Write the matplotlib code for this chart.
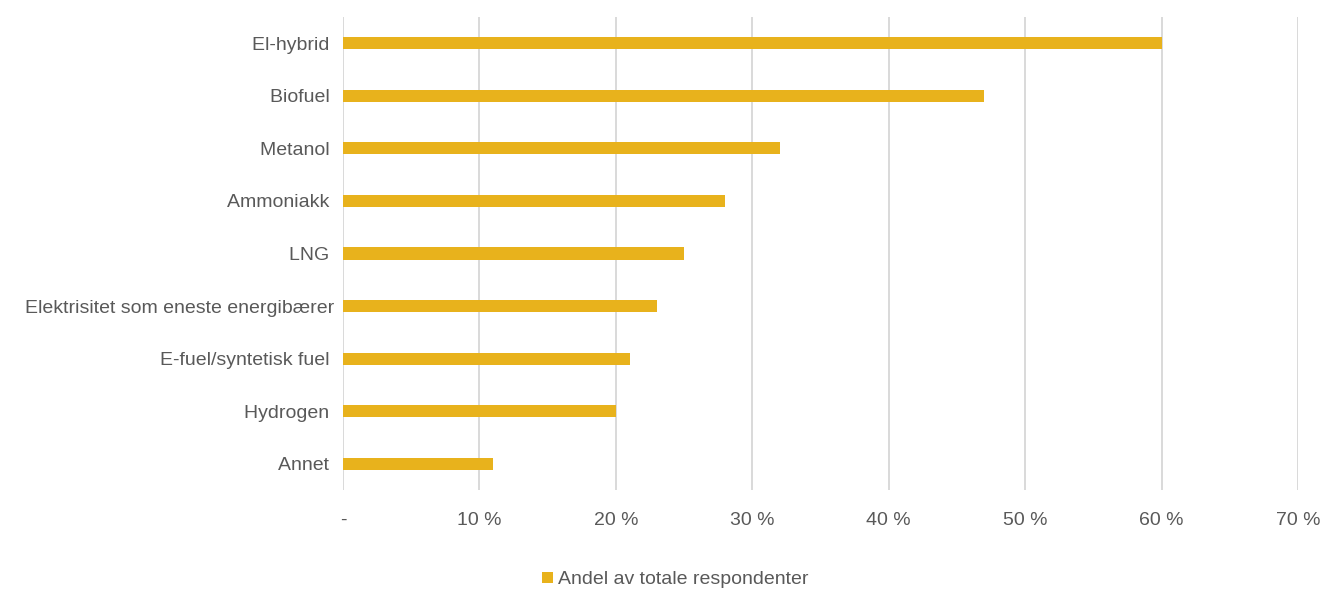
import matplotlib.pyplot as plt
from matplotlib.patches import Patch

plt.rcParams['font.family'] = ['Liberation Sans', 'DejaVu Sans']

categories = ['El-hybrid ', 'Biofuel ', 'Metanol ', 'Ammoniakk ', 'LNG ',
              'Elektrisitet som eneste energibærer', 'E-fuel/syntetisk fuel ',
              'Hydrogen ', 'Annet ']
shares = [60, 47, 32, 28, 25, 23, 21, 20, 11]
x_ticks = [0, 10, 20, 30, 40, 50, 60, 70]
x_tick_labels = ['-', '10 %', '20 %', '30 %', '40 %', '50 %', '60 %', '70 %']
series_name = 'Andel av totale respondenter'

bar_color = '#E8B21C'
text_color = '#595959'
grid_color = '#D9D9D9'
fs = 14

fig = plt.figure(figsize=(13.26, 5.9), dpi=100)
ax = fig.add_axes([343 / 1326, 1 - 490 / 590, (1298 - 343) / 1326, (490 - 17) / 590])

ypos = list(range(len(categories)))
ax.barh(ypos, shares, height=0.23, color=bar_color, zorder=3)

ax.set_ylim(len(categories) - 0.5, -0.5)
ax.set_xlim(0, 70)
ax.set_yticks(ypos)
ax.set_yticklabels(categories, fontsize=fs, color=text_color)
ax.set_xticks(x_ticks)
ax.set_xticklabels(x_tick_labels, fontsize=fs, color=text_color)
ax.tick_params(axis='both', length=0)
ax.tick_params(axis='y', pad=6)
ax.tick_params(axis='x', pad=16)

for s in ax.spines.values():
    s.set_visible(False)
ax.grid(axis='x', color=grid_color, linewidth=1.4, zorder=0)

handle = Patch(facecolor=bar_color, edgecolor='none')
fig.legend([handle], [series_name], loc='center', bbox_to_anchor=(675 / 1326, 1 - 580 / 590),
           frameon=False, fontsize=fs, labelcolor=text_color,
           handlelength=0.55, handleheight=0.55, handletextpad=0.25)

fig.savefig('out.png', dpi=100, facecolor='white')
